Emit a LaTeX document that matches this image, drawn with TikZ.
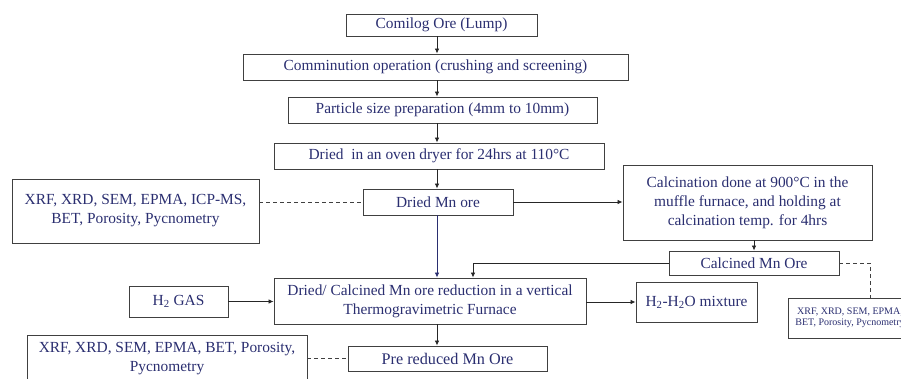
\documentclass[tikz,border=0pt]{standalone}
\usepackage{fontspec}
\setmainfont{Liberation Serif}
\usetikzlibrary{arrows.meta,calc}
\definecolor{inknavy}{RGB}{42,46,112}
\definecolor{edgegrey}{RGB}{64,64,64}
\tikzset{
  flowbox/.style={draw=edgegrey, line width=0.9pt, text=inknavy, inner sep=0pt, align=center,
    font=\fontsize{15.4}{19}\selectfont},
  arr/.style={-{Latex[length=5pt,width=4.5pt]}, line width=0.8pt, black!85},
  tie/.style={dash pattern=on 4pt off 3pt, edgegrey, line width=0.8pt}
}

\begin{document}
\begin{tikzpicture}[x=1pt,y=-1pt]
	%%%%% START %%%%%
	\useasboundingbox (0,0) rectangle (901,379);
	\clip (0,0) rectangle (901,379);
	
	\coordinate (spine) at (437,0);
	\coordinate (calcjoin) at (473,263);
	\coordinate (tiecorner) at (870,263);
	
	% main line
	\node[flowbox, minimum width=191, minimum height=22] (comilog) at (441.5,25) {Comilog Ore (Lump)};
	\node[flowbox, minimum width=385, minimum height=26] (commin) at (435.5,67) {Comminution operation (crushing and screening)};
	\node[flowbox, minimum width=309, minimum height=26] (particle) at (442.5,110) {Particle size preparation (4mm to 10mm)};
	\node[flowbox, minimum width=330, minimum height=26] (oven) at (439,156) {Dried\ \ in an oven dryer for 24hrs at 110°C};
	\node[flowbox, minimum width=150, minimum height=26] (driedmn) at (438,202) {Dried Mn ore};
	\node[flowbox, minimum width=312, minimum height=46] (reduction) at (430,301) {Dried/ Calcined Mn ore reduction in a vertical\\Thermogravimetric Furnace};
	\node[flowbox, minimum width=199, minimum height=25, font=\fontsize{16.2}{19}\selectfont] (prered) at (447.5,358.5) {Pre reduced Mn Ore};
	
	% calcination branch
	\node[flowbox, minimum width=249, minimum height=75] (calcin) at (747.5,202.5) {Calcination done at 900°C in the\\muffle furnace, and holding at\\calcination temp. for 4hrs};
	\node[flowbox, minimum width=170, minimum height=24] (calcined) at (754,263) {Calcined Mn Ore};
	
	% gas in and out
	\node[flowbox, minimum width=99, minimum height=31] (h2gas) at (178.5,301.5) {H\textsubscript{2} GAS};
	\node[flowbox, minimum width=121, minimum height=40] (mixture) at (696.5,302) {H\textsubscript{2}-H\textsubscript{2}O mixture};
	
	% characterisation
	\node[flowbox, minimum width=247, minimum height=64] (xrfdried) at (135.5,211) {XRF, XRD, SEM, EPMA, ICP-MS,\\BET, Porosity, Pycnometry};
	\node[flowbox, minimum width=124, minimum height=40, font=\fontsize{10}{11}\selectfont] (xrfcalc) at (850,318) {XRF, XRD, SEM, EPMA,\\BET, Porosity, Pycnometry};
	\node[flowbox, minimum width=280, minimum height=48] (xrfred) at (167,359) {XRF, XRD, SEM, EPMA, BET, Porosity,\\Pycnometry};
	
	% connectors
	\draw[arr] (comilog.south -| spine) -- (commin.north -| spine);
	\draw[arr] (commin.south -| spine) -- (particle.north -| spine);
	\draw[arr] (particle.south -| spine) -- (oven.north -| spine);
	\draw[arr] (oven.south -| spine) -- (driedmn.north -| spine);
	\draw[arr, inknavy] (driedmn.south -| spine) -- (reduction.north -| spine);
	\draw[arr] (driedmn.east) -- (driedmn.east -| calcin.west);
	\draw[arr] (calcined.north |- calcin.south) -- (calcined.north);
	\draw[arr] (calcined.west) -| (reduction.north -| calcjoin);
	\draw[arr] (h2gas.east) -- (reduction.west |- h2gas.east);
	\draw[arr] (reduction.east |- mixture.west) -- (mixture.west);
	\draw[arr] (reduction.south -| spine) -- (prered.north -| spine);
	
	\draw[tie] (xrfdried.east |- driedmn.west) -- (driedmn.west);
	\draw[tie] (calcined.east) -| (xrfcalc.north -| tiecorner);
	\draw[tie] (xrfred.east |- prered.west) -- (prered.west);
	%%%%% END %%%%%
\end{tikzpicture}
\end{document}
